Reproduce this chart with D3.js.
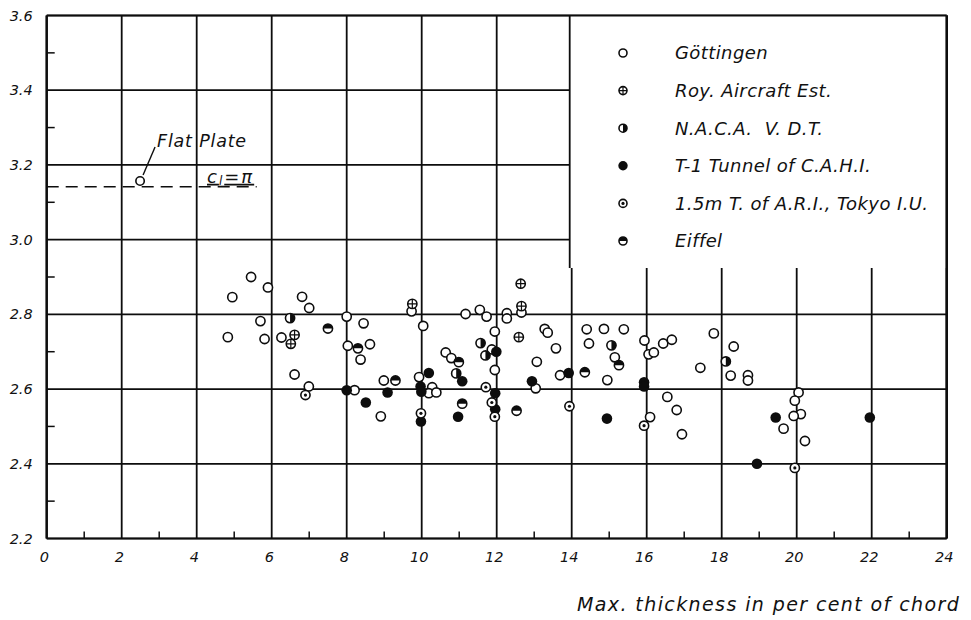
<!DOCTYPE html>
<html>
<head>
<meta charset="utf-8">
<script src="https://cdn.jsdelivr.net/npm/d3@7"></script>
<style>
  html, body { margin: 0; padding: 0; background: #fff; }
  svg { display: block; }
  text { font-family: "DejaVu Sans", "Liberation Sans", sans-serif; font-style: italic; fill: #111; white-space: pre; }
</style>
</head>
<body>
<svg id="chart" width="971" height="620"></svg>
<script>
// Tick values of the two axes.
const xTicks = [0, 2, 4, 6, 8, 10, 12, 14, 16, 18, 20, 22, 24];
const yTicks = [2.2, 2.4, 2.6, 2.8, 3.0, 3.2, 3.4, 3.6];
const xMinor = [1, 3, 5, 7, 9, 11, 13, 15, 17, 19, 21, 23];
const yMinor = [2.3, 2.5, 2.7, 2.9, 3.1, 3.3, 3.5];

// Series names (legend order).
const seriesNames = ["Göttingen", "Roy. Aircraft Est.", "N.A.C.A.  V. D.T.",
    "T-1 Tunnel of C.A.H.I.", "1.5m T. of A.R.I., Tokyo I.U.", "Eiffel"];

// [thickness %, lift slope].
const gottingen = [
    [5.45, 2.900], [5.90, 2.872], [4.95, 2.846], [6.81, 2.847], [7.00, 2.817], [5.70, 2.782],
    [8.00, 2.794], [8.45, 2.776], [4.83, 2.739], [5.81, 2.734], [6.26, 2.738], [8.03, 2.716],
    [8.62, 2.720], [8.37, 2.679], [6.61, 2.639], [8.99, 2.623], [6.99, 2.607], [8.21, 2.597],
    [8.91, 2.527], [9.73, 2.808], [12.66, 2.805], [11.17, 2.801], [11.55, 2.812], [11.73, 2.794],
    [12.27, 2.803], [12.27, 2.789], [10.04, 2.769], [11.95, 2.754], [13.28, 2.761], [13.36, 2.751],
    [11.87, 2.706], [13.58, 2.709], [10.64, 2.698], [10.79, 2.683], [11.95, 2.651], [13.07, 2.673],
    [9.93, 2.632], [10.28, 2.605], [10.19, 2.589], [10.39, 2.591], [13.04, 2.602], [13.69, 2.637],
    [14.40, 2.760], [14.86, 2.761], [15.39, 2.760], [14.46, 2.722], [15.15, 2.685], [14.95, 2.624],
    [15.94, 2.730], [16.05, 2.693], [16.19, 2.698], [16.44, 2.722], [16.67, 2.732], [17.79, 2.749],
    [17.43, 2.657], [18.32, 2.714], [18.24, 2.636], [16.55, 2.579], [16.80, 2.544], [16.09, 2.525],
    [16.94, 2.479], [18.70, 2.637], [18.70, 2.623], [20.05, 2.591], [19.95, 2.569], [20.11, 2.533],
    [19.92, 2.528], [19.65, 2.494], [20.22, 2.461]
];
const royAircraft = [[6.61, 2.745], [6.51, 2.721], [12.64, 2.882], [9.75, 2.828], [12.66, 2.822], [12.59, 2.739]];
const nacaVDT = [[6.49, 2.790], [11.57, 2.723], [11.70, 2.690], [10.92, 2.642], [15.06, 2.717], [18.11, 2.674]];
const cahiT1 = [
    [8.00, 2.597], [9.09, 2.591], [8.51, 2.564], [11.99, 2.700], [11.08, 2.621], [10.19, 2.643],
    [9.97, 2.607], [9.99, 2.593], [11.96, 2.589], [12.94, 2.621], [13.92, 2.643], [9.98, 2.513],
    [10.97, 2.526], [11.96, 2.546], [15.93, 2.618], [15.93, 2.607], [14.94, 2.521], [19.44, 2.524],
    [18.94, 2.400], [21.95, 2.524]
];
const ariTokyo = [[6.90, 2.584], [11.71, 2.605], [9.98, 2.535], [11.87, 2.564], [11.95, 2.526], [13.94, 2.554], [15.93, 2.502], [19.95, 2.389]];
const eiffel = [[7.50, 2.762], [8.30, 2.709], [9.30, 2.623], [10.99, 2.672], [11.08, 2.561], [12.53, 2.542], [15.26, 2.664], [14.35, 2.645]];

// Flat plate point and the theoretical value c_l = pi.
const flatPlate = [[2.49, 3.157]];
const thinAirfoil = [{ x0: 0, x1: 5.6, value: Math.PI }];

const svg = d3.select("#chart");
const x = d3.scaleLinear().domain([0, 24]).range([46.7, 946.7]);
const y = d3.scaleLinear().domain([2.2, 3.6]).range([538.5, 15.5]);
const [plotLeft, plotRight] = x.range();
const [plotBottom, plotTop] = y.range();
const ink = "#0d0d0d";

// Grid lines (every 2 % and every 0.2).
svg.append("g")
    .selectAll("line")
    .data(xTicks)
    .enter().append("line")
    .attr("x1", d => x(d)).attr("x2", d => x(d))
    .attr("y1", plotTop).attr("y2", plotBottom)
    .attr("stroke", ink).attr("stroke-width", 1.8);

svg.append("g")
    .selectAll("line")
    .data(yTicks)
    .enter().append("line")
    .attr("x1", plotLeft).attr("x2", plotRight)
    .attr("y1", d => y(d)).attr("y2", d => y(d))
    .attr("stroke", ink).attr("stroke-width", 1.7);

// Minor ticks along the left and bottom axes.
svg.append("g")
    .selectAll("line")
    .data(yMinor)
    .enter().append("line")
    .attr("x1", plotLeft).attr("x2", plotLeft + 8)
    .attr("y1", d => y(d)).attr("y2", d => y(d))
    .attr("stroke", ink).attr("stroke-width", 1.5);

svg.append("g")
    .selectAll("line")
    .data(xMinor)
    .enter().append("line")
    .attr("x1", d => x(d)).attr("x2", d => x(d))
    .attr("y1", plotBottom).attr("y2", plotBottom - 7)
    .attr("stroke", ink).attr("stroke-width", 1.5);

// Frame: heavier left and right edges.
svg.append("line").attr("x1", plotLeft).attr("x2", plotLeft).attr("y1", plotTop).attr("y2", plotBottom)
    .attr("stroke", ink).attr("stroke-width", 2.4);
svg.append("line").attr("x1", plotRight).attr("x2", plotRight).attr("y1", plotTop).attr("y2", plotBottom)
    .attr("stroke", ink).attr("stroke-width", 2.6);
svg.append("line").attr("x1", plotLeft).attr("x2", plotRight).attr("y1", plotBottom).attr("y2", plotBottom)
    .attr("stroke", ink).attr("stroke-width", 2.2);

// Tick labels through d3 axes, with the axis lines hidden.
const xAxis = svg.append("g")
    .attr("transform", `translate(0,${plotBottom})`)
    .call(d3.axisBottom(x).tickValues(xTicks).tickSize(0).tickPadding(13).tickFormat(d3.format("d")));
const yAxis = svg.append("g")
    .attr("transform", `translate(${plotLeft},0)`)
    .call(d3.axisLeft(y).tickValues(yTicks).tickSize(0).tickPadding(14).tickFormat(d3.format(".1f")));
[xAxis, yAxis].forEach(g => {
    g.select(".domain").remove();
    g.selectAll("text")
        .attr("font-family", '"DejaVu Sans", "Liberation Sans", sans-serif')
        .attr("font-style", "italic")
        .attr("font-size", 14.5)
        .attr("fill", ink);
});
xAxis.selectAll("text").attr("dx", "-0.2em");

// Legend panel sits on top of the grid in the upper right corner.
const legendX = x(14) - 2,
    legendBottom = 268;
svg.append("rect")
    .attr("x", legendX).attr("y", plotTop)
    .attr("width", plotRight - legendX).attr("height", legendBottom - plotTop)
    .attr("fill", "#fff");
svg.append("line").attr("x1", legendX).attr("x2", legendX).attr("y1", plotTop).attr("y2", legendBottom)
    .attr("stroke", ink).attr("stroke-width", 1.8);
svg.append("line").attr("x1", plotLeft).attr("x2", plotRight).attr("y1", plotTop).attr("y2", plotTop)
    .attr("stroke", ink).attr("stroke-width", 2);
svg.append("line").attr("x1", plotRight).attr("x2", plotRight).attr("y1", plotTop).attr("y2", legendBottom)
    .attr("stroke", ink).attr("stroke-width", 2.6);

// Marker drawing: one routine per symbol kind.
function drawMarker(g, kind, r) {
    const sw = 1.6;
    if (kind === "filled") {
        g.append("circle").attr("r", r + 0.7).attr("fill", ink);
        return;
    }
    g.append("circle").attr("r", r).attr("fill", "#fff").attr("stroke", ink).attr("stroke-width", sw);
    if (kind === "cross") {
        g.append("path").attr("d", `M${-r},0H${r}M0,${-r}V${r}`).attr("stroke", ink).attr("stroke-width", 1.2);
    } else if (kind === "rightHalf") {
        g.append("path").attr("d", `M0,${-r}A${r},${r} 0 0 1 0,${r}Z`).attr("fill", ink);
    } else if (kind === "dot") {
        g.append("circle").attr("r", 1.6).attr("fill", ink);
    } else if (kind === "topHalf") {
        g.append("path").attr("d", `M${-r},0A${r},${r} 0 0 1 ${r},0Z`).attr("fill", ink);
    }
}

const series = [
    { name: seriesNames[0], kind: "open", values: gottingen },
    { name: seriesNames[1], kind: "cross", values: royAircraft },
    { name: seriesNames[2], kind: "rightHalf", values: nacaVDT },
    { name: seriesNames[3], kind: "filled", values: cahiT1 },
    { name: seriesNames[4], kind: "dot", values: ariTokyo },
    { name: seriesNames[5], kind: "topHalf", values: eiffel }
];

// Data points.
const pts = svg.append("g").attr("class", "points");
series.forEach(s => {
    pts.selectAll(null)
        .data(s.values)
        .enter().append("g")
        .attr("transform", d => `translate(${x(d[0])},${y(d[1])})`)
        .each(function() { drawMarker(d3.select(this), s.kind, 4.6); });
});

// Legend entries.
const legend = svg.append("g").attr("class", "legend");
series.forEach((s, i) => {
    const row = legend.append("g").attr("transform", `translate(623,${53 + i * 37.6})`);
    drawMarker(row.append("g"), s.kind, 4);
    row.append("text")
        .attr("x", 52).attr("dy", "0.36em")
        .attr("font-size", 18)
        .attr("letter-spacing", 0.4)
        .text(s.name);
});

// Flat plate point with its theoretical value.
const tA = thinAirfoil[0];
svg.append("line")
    .attr("x1", x(tA.x0)).attr("x2", x(tA.x1))
    .attr("y1", y(tA.value)).attr("y2", y(tA.value))
    .attr("stroke", ink).attr("stroke-width", 1.6)
    .attr("stroke-dasharray", "12,7");

svg.append("g")
    .selectAll("g")
    .data(flatPlate)
    .enter().append("g")
    .attr("transform", d => `translate(${x(d[0])},${y(d[1])})`)
    .each(function() { drawMarker(d3.select(this), "open", 4.2); });

const fp = flatPlate[0];
svg.append("line")
    .attr("x1", x(fp[0]) + 15).attr("y1", y(fp[1]) - 34)
    .attr("x2", x(fp[0]) + 3).attr("y2", y(fp[1]) - 6)
    .attr("stroke", ink).attr("stroke-width", 1.4);
svg.append("text")
    .attr("x", x(fp[0]) + 17).attr("y", y(fp[1]) - 34)
    .attr("font-size", 17.5)
    .attr("letter-spacing", 0.8)
    .text("Flat Plate");

const cl = svg.append("text")
    .attr("x", 207).attr("y", y(tA.value) - 4)
    .attr("font-size", 18)
    .attr("letter-spacing", 2)
    .attr("text-decoration", "underline");
cl.append("tspan").text("c");
cl.append("tspan").attr("font-size", 12).attr("dy", 2).text("l");
cl.append("tspan").attr("dy", -2).text("=π");

// Axis title.
svg.append("text")
    .attr("x", 577).attr("y", 611)
    .attr("font-size", 19)
    .attr("letter-spacing", 1.4)
    .text("Max. thickness in per cent of chord");
</script>
</body>
</html>
